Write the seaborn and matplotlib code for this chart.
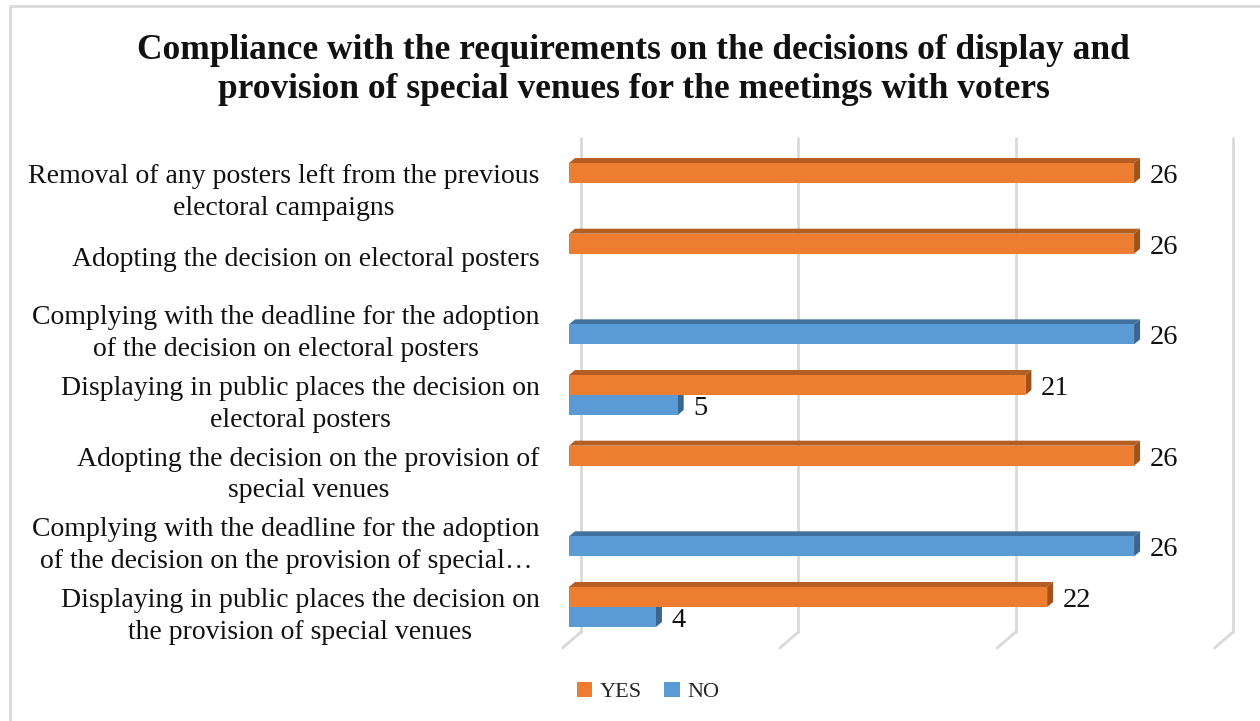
import matplotlib
matplotlib.use("Agg")
import matplotlib.pyplot as plt
import matplotlib.transforms as mtransforms
from matplotlib.patches import Polygon, Rectangle, Patch
from matplotlib.lines import Line2D
import seaborn as sns
import pandas as pd

# Datos del grafico
categorias = [
    "Removal of any posters left from the previous\nelectoral campaigns",
    "Adopting the decision on electoral posters",
    "Complying with the deadline for the adoption\nof the decision on electoral posters",
    "Displaying in public places the decision on\nelectoral posters",
    "Adopting the decision on the provision of\nspecial venues",
    "Complying with the deadline for the adoption\nof the decision on the provision of special…",
    "Displaying in public places the decision on\nthe provision of special venues",
]
series = ["YES", "NO"]
valores_yes = [26, 26, 0, 21, 26, 0, 22]
valores_no = [0, 0, 26, 5, 0, 26, 4]
marcas_x = [0, 10, 20, 30]

titulo = ("Compliance with the requirements on the decisions of display and\n"
          "provision of special venues for the meetings with voters")

COLORES = {"YES": "#ED7D31", "NO": "#5B9BD5"}
TAPA = {"YES": "#B55E23", "NO": "#41719C"}
LADO = {"YES": "#A0521D", "NO": "#3A6590"}
GRIS = "#D9D9D9"

df = pd.DataFrame({
    "categoria": categorias * 2,
    "serie": ["YES"] * len(categorias) + ["NO"] * len(categorias),
    "valor": valores_yes + valores_no,
})

sns.set_style("white")
plt.rcParams["font.family"] = ["Liberation Serif", "DejaVu Serif"]

W, H, DPI = 12.6, 7.21, 100
fig = plt.figure(figsize=(W, H), dpi=DPI)
# eje: x 0..30 desde px 569 hasta 1221, y desde px 147.7 hasta 642.3
ax = fig.add_axes([569 / 1260, 1 - 642.3 / 721, 652 / 1260, 494.6 / 721])

sns.barplot(data=df, y="categoria", x="valor", hue="serie", hue_order=series,
            palette=COLORES, saturation=1, width=0.566, orient="h",
            linewidth=0, legend=False, ax=ax, zorder=2)

ax.set_xlim(marcas_x[0], marcas_x[-1])
ax.set_ylim(len(categorias) - 0.5, -0.5)
ax.set_xticks([])
ax.set_xlabel("")
ax.set_ylabel("")
sns.despine(ax=ax, left=True, bottom=True)
ax.tick_params(axis="y", length=0, pad=21, labelsize=20, labelcolor="#111111")
bajar = mtransforms.ScaledTranslation(0, -3 / DPI, fig.dpi_scale_trans)
for lbl in ax.get_yticklabels():
    lbl.set_multialignment("center")
    lbl.set_linespacing(1.35)
    lbl.set_transform(lbl.get_transform() + bajar)

# Efecto 3D: tapa superior y lado derecho (en pixeles)
dx, dy = 6, 5
ident = mtransforms.IdentityTransform()
for serie, cont in zip(series, ax.containers):
    for rect in cont:
        if rect.get_width() <= 0:
            continue
        x0, y0 = rect.get_x(), rect.get_y()
        x1, y1 = x0 + rect.get_width(), y0 + rect.get_height()
        (xl, yb), (xr, yt) = ax.transData.transform([(x0, y1), (x1, y0)])
        tapa = Polygon([(xl, yt), (xr, yt), (xr + dx, yt + dy), (xl + dx, yt + dy)],
                       closed=True, transform=ident, facecolor=TAPA[serie],
                       edgecolor="none", zorder=1.5, clip_on=False)
        lado = Polygon([(xr, yb), (xr, yt), (xr + dx, yt + dy), (xr + dx, yb + dy)],
                       closed=True, transform=ident, facecolor=LADO[serie],
                       edgecolor="none", zorder=1.5, clip_on=False)
        ax.add_artist(tapa)
        ax.add_artist(lado)
    cont_labels = [str(int(v)) if v else "" for v in cont.datavalues]
    etiquetas = ax.bar_label(cont, labels=cont_labels, padding=11, fontsize=20.5,
                             color="#111111")
    for et in etiquetas:
        et.xyann = (11, -2.5)

# Lineas de division (pared de fondo con pie inclinado)
for m in marcas_x:
    xp, _ = ax.transData.transform((m, 0))
    arriba = 721 - 138
    abajo = 721 - 632
    ax.add_artist(Line2D([xp + 12, xp + 12], [abajo, arriba], transform=ident,
                         color=GRIS, lw=2, zorder=0.5, clip_on=False))
    ax.add_artist(Line2D([xp + 12, xp - 6.5], [abajo, abajo - 16], transform=ident,
                         color=GRIS, lw=2, zorder=0.5, clip_on=False))

# Titulo
fig.text(0.503, 1 - 70 / 721, titulo, ha="center", va="center", fontsize=25.5,
         fontweight="bold", linespacing=1.22, color="#111111")

# Leyenda
manijas = [Patch(facecolor=COLORES[s], edgecolor="none", label=s) for s in series]
fig.legend(handles=manijas, loc="center", bbox_to_anchor=(0.5145, 1 - 692 / 721),
           ncol=2, frameon=False, fontsize=16, handlelength=0.7, handleheight=0.7,
           handletextpad=0.35, columnspacing=1.0)

# Marco gris del grafico
fig.add_artist(Rectangle((10 / 1260, -0.1), 2, 1.1 - 6 / 721, transform=fig.transFigure,
                         fill=False, edgecolor=GRIS, lw=2))

fig.savefig("out.png", dpi=DPI)
